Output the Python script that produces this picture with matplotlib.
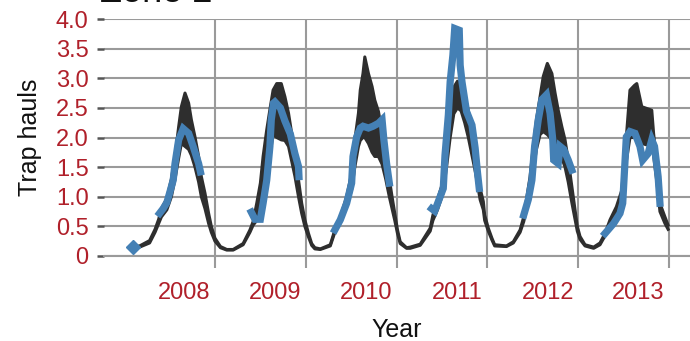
import numpy as np
import matplotlib
matplotlib.use("Agg")
import matplotlib.pyplot as plt
from matplotlib.ticker import FixedLocator, FuncFormatter

plt.rcParams['font.family'] = ['Liberation Sans', 'DejaVu Sans']

# model credible band (decimal year, lower, upper)
band_t = [2008.12, 2008.17, 2008.28, 2008.34, 2008.38, 2008.41, 2008.47, 2008.52, 2008.56, 2008.60,
          2008.63, 2008.67, 2008.71, 2008.74, 2008.78, 2008.82, 2008.85, 2008.89, 2008.93, 2008.96,
          2009.00, 2009.06, 2009.13, 2009.20, 2009.31, 2009.385, 2009.42,
          2009.46, 2009.50, 2009.53, 2009.57, 2009.61, 2009.64, 2009.68, 2009.73, 2009.77, 2009.81,
          2009.845, 2009.88, 2009.92, 2009.955, 2009.99, 2010.03, 2010.065, 2010.10, 2010.16, 2010.27,
          2010.32,
          2010.38, 2010.45, 2010.505, 2010.54, 2010.58, 2010.60, 2010.63, 2010.65, 2010.69, 2010.73,
          2010.76, 2010.80, 2010.84, 2010.88, 2010.92, 2010.95, 2010.98, 2011.01, 2011.04, 2011.11,
          2011.15, 2011.26, 2011.37, 2011.40,
          2011.45, 2011.51, 2011.55, 2011.59, 2011.63, 2011.67, 2011.71, 2011.75, 2011.79, 2011.83,
          2011.87, 2011.92, 2011.955, 2011.97, 2012.01, 2012.05, 2012.08, 2012.21, 2012.285, 2012.36,
          2012.40,
          2012.43, 2012.47, 2012.505, 2012.54, 2012.58, 2012.615, 2012.66, 2012.71, 2012.745, 2012.78,
          2012.82, 2012.855, 2012.89, 2012.93, 2012.965, 2012.99, 2013.02, 2013.075, 2013.17, 2013.24,
          2013.295,
          2013.35, 2013.42, 2013.48, 2013.53, 2013.57, 2013.62, 2013.645, 2013.70, 2013.81, 2013.83,
          2013.87, 2013.90, 2013.955, 2013.99]
band_lo = [0.14, 0.15, 0.22, 0.40, 0.55, 0.66, 0.78, 1.00, 1.30, 1.65,
           1.90, 1.85, 1.80, 1.70, 1.50, 1.25, 1.00, 0.80, 0.55, 0.40,
           0.25, 0.14, 0.10, 0.10, 0.19, 0.40, 0.52,
           0.60, 0.62, 0.85, 1.20, 1.75, 2.05, 2.00, 1.96, 1.95, 1.85,
           1.60, 1.35, 1.00, 0.72, 0.50, 0.32, 0.18, 0.12, 0.11, 0.17,
           0.40,
           0.56, 0.84, 1.12, 1.50, 1.85, 1.95, 2.00, 2.00, 1.90, 1.75,
           1.68, 1.68, 1.55, 1.30, 1.00, 0.80, 0.60, 0.38, 0.21, 0.13,
           0.13, 0.18, 0.42, 0.60,
           0.78, 1.05, 1.50, 2.00, 2.40, 2.50, 2.45, 2.25, 2.00, 1.70,
           1.40, 0.95, 0.78, 0.60, 0.42, 0.27, 0.17, 0.16, 0.22, 0.40,
           0.58,
           0.78, 1.08, 1.45, 1.80, 2.05, 2.10, 2.05, 1.96, 1.90, 1.80,
           1.65, 1.50, 1.25, 0.90, 0.62, 0.42, 0.28, 0.17, 0.13, 0.19,
           0.34,
           0.48, 0.60, 0.80, 1.60, 2.00, 2.00, 2.00, 1.90, 1.85, 1.70,
           1.20, 0.75, 0.55, 0.45]
band_hi = [0.16, 0.17, 0.26, 0.45, 0.62, 0.80, 0.97, 1.30, 1.68, 2.18,
           2.52, 2.75, 2.58, 2.30, 2.01, 1.68, 1.34, 1.06, 0.72, 0.50,
           0.30, 0.16, 0.11, 0.11, 0.21, 0.44, 0.58,
           0.89, 1.23, 1.68, 2.13, 2.52, 2.80, 2.91, 2.91, 2.69, 2.41,
           2.07, 1.73, 1.28, 0.89, 0.61, 0.38, 0.21, 0.14, 0.12, 0.19,
           0.44,
           0.66, 1.00, 1.40, 1.96, 2.41, 2.80, 3.08, 3.36, 3.08, 2.86,
           2.63, 2.44, 2.10, 1.70, 1.30, 1.00, 0.72, 0.44, 0.24, 0.14,
           0.15, 0.20, 0.47, 0.69,
           0.95, 1.25, 1.90, 2.50, 2.85, 2.95, 2.90, 2.70, 2.45, 2.10,
           1.70, 1.14, 0.92, 0.69, 0.47, 0.30, 0.19, 0.17, 0.24, 0.44,
           0.66,
           0.95, 1.34, 1.85, 2.30, 2.69, 3.03, 3.25, 3.08, 2.75, 2.46,
           2.18, 1.96, 1.62, 1.17, 0.78, 0.50, 0.33, 0.19, 0.15, 0.22,
           0.38,
           0.61, 0.83, 1.11, 2.01, 2.80, 2.88, 2.91, 2.52, 2.46, 2.07,
           1.50, 0.89, 0.66, 0.52]

# observed trap hauls (NaN separates seasons)
nan = np.nan
obs_t = [2008.39, 2008.43, 2008.47, 2008.50, 2008.54, 2008.56, 2008.60, 2008.65, 2008.71, 2008.76,
         2008.82, 2008.84, nan,
         2009.40, 2009.44, 2009.50, 2009.53, 2009.57, 2009.605, 2009.62, 2009.645, 2009.66, 2009.72,
         2009.77, 2009.83, 2009.88, 2009.92, 2009.925, nan,
         2010.32, 2010.38, 2010.45, 2010.505, 2010.52, 2010.56, 2010.60, 2010.63, 2010.69, 2010.74,
         2010.80, 2010.84, 2010.86, 2010.89, 2010.92, nan,
         2011.386, 2011.42, 2011.514, 2011.533, 2011.57, 2011.59, 2011.62, 2011.64, 2011.69, 2011.70,
         2011.72, 2011.77, 2011.83, 2011.865, 2011.89, 2011.91, nan,
         2012.40, 2012.45, 2012.49, 2012.52, 2012.56, 2012.60, 2012.65, 2012.69, 2012.72, 2012.73,
         2012.78, 2012.80, 2012.84, 2012.89, 2012.93, nan,
         2013.295, 2013.39, 2013.46, 2013.49, 2013.51, 2013.53, 2013.57, 2013.625, 2013.68, 2013.71,
         2013.77, 2013.81, 2013.84, 2013.88, 2013.90]
obs_v = [0.72, 0.80, 0.90, 1.06, 1.28, 1.56, 1.96, 2.15, 2.07, 1.85,
         1.56, 1.42, nan,
         0.74, 0.62, 0.62, 0.89, 1.28, 1.85, 2.30, 2.58, 2.60, 2.50,
         2.28, 2.06, 1.73, 1.51, 1.34, nan,
         0.44, 0.61, 0.89, 1.23, 1.68, 2.01, 2.16, 2.19, 2.16, 2.19,
         2.24, 2.30, 1.96, 1.56, 1.23, nan,
         0.80, 0.76, 1.14, 1.70, 2.38, 2.94, 3.39, 3.84, 3.81, 3.22,
         2.94, 2.44, 2.21, 1.82, 1.42, 1.14, nan,
         0.69, 0.95, 1.28, 1.85, 2.30, 2.64, 2.72, 2.41, 1.96, 1.62,
         1.56, 1.85, 1.80, 1.62, 1.45, nan,
         0.38, 0.55, 0.72, 0.89, 1.45, 2.01, 2.10, 2.07, 1.85, 1.62,
         1.73, 1.96, 1.85, 1.34, 0.89]

# lone early observation
first_t = [2008.10]
first_v = [0.15]

year_grid = [2009, 2010, 2011, 2012, 2013, 2014]
year_label_pos = [2008.665, 2009.665, 2010.665, 2011.665, 2012.665, 2013.665]
year_labels = ['2008', '2009', '2010', '2011', '2012', '2013']
y_ticks = [0, 0.5, 1.0, 1.5, 2.0, 2.5, 3.0, 3.5, 4.0]

red = '#B0202A'
grid_c = '#9a9a9a'
band_c = '#2e2e2e'
blue = '#4480B5'

fig = plt.figure(figsize=(6.9, 3.41), dpi=100)
ax = fig.add_axes([104 / 690, 85 / 341, 586 / 690, 237 / 341])

ax.fill_between(band_t, band_lo, band_hi, color=band_c, lw=0, zorder=2)
ax.plot(band_t, band_hi, color=band_c, lw=2.2, zorder=2)
ax.plot(band_t, band_lo, color=band_c, lw=2.2, zorder=2)
ax.plot(obs_t, obs_v, color=blue, lw=5.2, solid_joinstyle='miter', zorder=3)
ax.plot(first_t, first_v, 'D', color=blue, ms=7, zorder=3)

ax.set_xlim(2007.778, 2014.231)
ax.set_ylim(0, 4.0)

ax.xaxis.set_major_locator(FixedLocator(year_grid))
ax.xaxis.set_minor_locator(FixedLocator(year_label_pos))
ax.xaxis.set_major_formatter(FuncFormatter(lambda v, p: ''))
ax.xaxis.set_minor_formatter(FuncFormatter(lambda v, p: year_labels[p] if p is not None and p < len(year_labels) else ''))
ax.tick_params(axis='x', which='major', length=8.5, width=1.5, color=grid_c, direction='out')
ax.tick_params(axis='x', which='minor', length=0, pad=19, labelsize=17, labelcolor=red)

ax.set_yticks(y_ticks)
ax.set_yticklabels(['0' if v == 0 else f'{v:.1f}' for v in y_ticks])
ax.tick_params(axis='y', length=5, width=1.8, color='#555555', pad=6, labelsize=17, labelcolor=red)

ax.grid(True, which='major', color=grid_c, lw=1.5, zorder=0)
ax.set_axisbelow(True)
for s in ['top', 'right', 'left']:
    ax.spines[s].set_visible(False)
ax.spines['bottom'].set_color(grid_c)
ax.spines['bottom'].set_linewidth(1.5)

ax.set_xlabel('Year', fontsize=18, labelpad=10, color='#111111')
ax.set_ylabel('Trap hauls', fontsize=18, labelpad=10, color='#111111')

fig.text(100 / 690, 1 - 2 / 341, 'Zone 2', fontsize=26, ha='left', va='baseline', color='#111111')

fig.savefig('out.png', dpi=100)
